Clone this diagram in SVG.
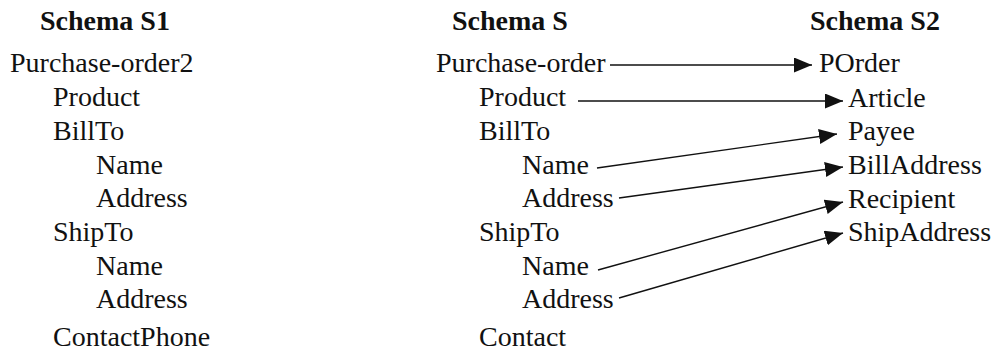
<svg xmlns="http://www.w3.org/2000/svg" width="993" height="353" viewBox="0 0 993 353">
<style>
text{font-family:"Liberation Serif","Times New Roman",serif;font-size:28px;fill:#111}
.h{font-weight:bold}
.c line{stroke:#111;stroke-width:1.4;fill:none}
</style>
<defs>
<marker id="ah" markerUnits="userSpaceOnUse" markerWidth="18" markerHeight="16" refX="18" refY="7.5" orient="auto">
<path d="M0,0 L18,7.5 L0,15 z" fill="#111"/>
</marker>
</defs>
<rect width="993" height="353" fill="#fff"/>
<g id="schema-s1">
<text class="h" x="40" y="30">Schema S1</text>
<text x="10" y="72">Purchase-order2</text>
<text x="53" y="106">Product</text>
<text x="53" y="140">BillTo</text>
<text x="96" y="174">Name</text>
<text x="96" y="207">Address</text>
<text x="53" y="241">ShipTo</text>
<text x="96" y="275">Name</text>
<text x="96" y="308">Address</text>
<text x="53" y="346">ContactPhone</text>
</g>
<g id="schema-s">
<text class="h" x="452" y="30">Schema S</text>
<text x="436" y="72">Purchase-order</text>
<text x="479" y="106">Product</text>
<text x="479" y="140">BillTo</text>
<text x="522" y="174">Name</text>
<text x="522" y="207">Address</text>
<text x="479" y="241">ShipTo</text>
<text x="522" y="275">Name</text>
<text x="522" y="308">Address</text>
<text x="479" y="346">Contact</text>
</g>
<g id="schema-s2">
<text class="h" x="810" y="30">Schema S2</text>
<text x="819" y="72">POrder</text>
<text x="848" y="107">Article</text>
<text x="848" y="140">Payee</text>
<text x="848" y="174">BillAddress</text>
<text x="848" y="208">Recipient</text>
<text x="848" y="241">ShipAddress</text>
</g>
<g id="connectors" class="c">
<line x1="610" y1="65" x2="812" y2="65" marker-end="url(#ah)"/>
<line x1="578" y1="101" x2="843" y2="101" marker-end="url(#ah)"/>
<line x1="597" y1="168" x2="837" y2="134" marker-end="url(#ah)"/>
<line x1="619" y1="198" x2="843" y2="167" marker-end="url(#ah)"/>
<line x1="598" y1="270" x2="843" y2="202" marker-end="url(#ah)"/>
<line x1="619" y1="298" x2="843" y2="233" marker-end="url(#ah)"/>
</g>
</svg>
